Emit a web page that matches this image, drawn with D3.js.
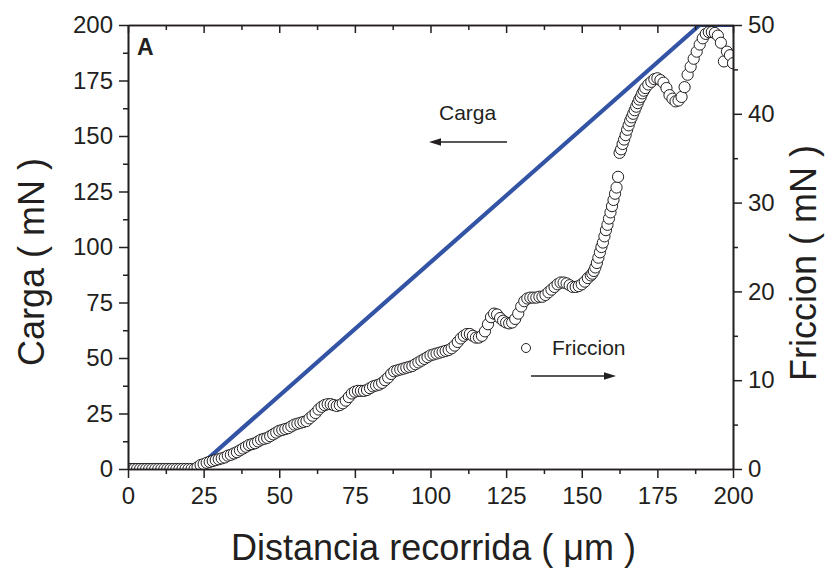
<!DOCTYPE html>
<html>
<head>
<meta charset="utf-8">
<script src="https://cdn.jsdelivr.net/npm/d3@7"></script>
<style>
  html, body { margin: 0; padding: 0; background: #fff; }
  svg { display: block; }
  text { font-family: "Liberation Sans", Arial, Helvetica, sans-serif; fill: #231f20; }
</style>
</head>
<body>
<svg id="chart" width="826" height="568"></svg>
<script>
// Load ramp (left axis): distance (µm) vs. applied load (mN)
const cargaDist = [0, 22.5, 189, 200];
const cargaVal  = [0, 0, 200, 200];

// Friction force (right axis): distance (µm) vs. friction (mN)
const friccionDist = [
  0,1,2,3,4,5,6,7,8,9,10,11,12,13,14,15,16,17,18,19,20,21,22,
  23,24,25,26,27,28,29,30,31,32,33,34,35,36,37,38,39,40,41,42,43,44,45,46,47,48,49,50,
  51,52,53,54,55,56,57,58,59,60,61,62,63,64,65,66,67,68,69,70,71,72,73,74,75,
  76,77,78,79,80,81,82,83,84,85,86,87,88,89,90,91,92,93,94,95,96,97,98,99,100,
  101,102,103,104,105,106,107,108,109,110,111,112,113,114,115,116,117,118,119,120,
  121,122,123,124,125,126,127,128,129,130,131,132,133,134,135,136,137,138,139,140,
  141,142,143,144,145,146,147,148,149,150,151,152,153,
  153.5,154,154.5,155,155.5,156,156.5,157,157.5,158,158.5,159,159.5,160,160.5,161,161.5,
  162,162.5,163,163.5,164,164.5,165,165.5,166,166.5,167,167.5,168,168.5,169,169.5,170,170.5,171,
  172,173,174,175,176,177,178,179,180,181,182,183,184,185,186,187,188,189,190,
  191,192,193,194,195,196,197,198,199,200
];
const friccionVal = [
  0,0,0,0,0,0,0,0,0,0,0,0,0,0,0,0,0,0,0,0,0,0,0,
  0.2,0.45,0.55,0.7,0.8,0.9,1.0,1.1,1.2,1.3,1.5,1.6,1.75,1.9,2.1,2.3,2.5,2.7,2.8,2.9,3.1,3.3,3.4,3.5,3.7,3.9,4.1,4.3,
  4.4,4.5,4.6,4.8,5.0,5.1,5.2,5.3,5.4,5.7,6.0,6.3,6.7,7.0,7.2,7.3,7.3,7.2,7.1,7.2,7.4,7.7,8.1,8.5,8.7,
  8.8,8.8,8.8,8.9,9.1,9.3,9.4,9.5,9.7,10.0,10.3,10.7,11.0,11.1,11.2,11.3,11.4,11.5,11.6,11.8,12.0,12.2,12.4,12.6,12.8,
  12.9,13.0,13.1,13.2,13.3,13.4,13.6,13.9,14.3,14.7,15.0,15.2,15.2,15.0,14.8,14.8,15.0,15.5,16.3,17.1,
  17.5,17.4,17.0,16.7,16.5,16.4,16.5,16.9,17.5,18.3,18.9,19.2,19.3,19.3,19.3,19.4,19.4,19.6,19.9,20.2,
  20.5,20.8,21.0,21.0,20.9,20.7,20.5,20.5,20.6,20.8,21.1,21.5,21.8,
  22.0,22.3,22.7,23.2,23.8,24.4,25.0,25.5,26.2,26.9,27.5,28.2,28.9,29.6,30.3,31.0,31.7,
  32.9,35.6,36.0,36.6,37.1,37.6,38.2,38.7,39.2,39.6,40.0,40.4,40.8,41.2,41.6,41.9,42.3,42.6,42.9,
  43.3,43.6,43.9,44.0,43.8,43.5,42.9,42.1,41.7,41.4,41.5,41.9,43.0,44.4,45.3,46.2,47.0,47.8,48.5,
  49.0,49.2,49.2,49.1,48.8,48.0,45.9,47.0,46.6,45.7
];

// Axis ticks
const xTicks = [0, 25, 50, 75, 100, 125, 150, 175, 200];
const xMinorTicks = [12.5, 37.5, 62.5, 87.5, 112.5, 137.5, 162.5, 187.5];
const cargaTicks = [0, 25, 50, 75, 100, 125, 150, 175, 200];
const cargaMinorTicks = [12.5, 37.5, 62.5, 87.5, 112.5, 137.5, 162.5, 187.5];
const friccionTicks = [0, 10, 20, 30, 40, 50];
const friccionMinorTicks = [5, 15, 25, 35, 45];

const svg = d3.select("#chart");
const plotLeft = 128, plotRight = 733, plotTop = 25, plotBottom = 469;
const ink = "#231f20";
const blue = "#3353a4";

const x = d3.scaleLinear().domain([0, 200]).range([plotLeft, plotRight]);
const yL = d3.scaleLinear().domain([0, 200]).range([plotBottom, plotTop]);
const yR = d3.scaleLinear().domain([0, 50]).range([plotBottom, plotTop]);

svg.append("defs").append("clipPath").attr("id", "plotClip")
  .append("rect").attr("x", plotLeft).attr("y", plotTop)
  .attr("width", plotRight - plotLeft).attr("height", plotBottom - plotTop);

const plot = svg.append("g").attr("clip-path", "url(#plotClip)");

// load line
const cargaPts = cargaDist.map((d, i) => [d, cargaVal[i]]);
plot.append("path")
  .datum(cargaPts)
  .attr("fill", "none")
  .attr("stroke", blue)
  .attr("stroke-width", 4.2)
  .attr("d", d3.line().x(d => x(d[0])).y(d => yL(d[1])));

// friction markers
const friccionPts = friccionDist.map((d, i) => [d, friccionVal[i]]);
plot.append("g").selectAll("circle")
  .data(friccionPts)
  .join("circle")
  .attr("cx", d => x(d[0]))
  .attr("cy", d => yR(d[1]))
  .attr("r", 5.6)
  .attr("fill", "#fff")
  .attr("stroke", ink)
  .attr("stroke-width", 1);

// axes
function styleAxis(g) {
  g.select(".domain").attr("stroke", ink).attr("stroke-width", 1.6);
  g.selectAll(".tick line").attr("stroke", ink).attr("stroke-width", 1.5);
  g.selectAll(".tick text")
    .attr("fill", ink)
    .style("font-size", "24px")
    .style("font-family", "'Liberation Sans', Arial, sans-serif");
}

svg.append("g").attr("transform", `translate(0,${plotBottom})`)
  .call(d3.axisBottom(x).tickValues(xTicks).tickSize(9).tickPadding(9).tickSizeOuter(0).tickFormat(d3.format("d")))
  .call(styleAxis);
svg.append("g").attr("transform", `translate(0,${plotBottom})`)
  .call(d3.axisBottom(x).tickValues(xMinorTicks).tickSize(5).tickSizeOuter(0).tickFormat(""))
  .call(styleAxis);

svg.append("g").attr("transform", `translate(0,${plotTop})`)
  .call(d3.axisBottom(x).tickValues(xTicks).tickSize(8).tickSizeOuter(0).tickFormat(""))
  .call(styleAxis);
svg.append("g").attr("transform", `translate(0,${plotTop})`)
  .call(d3.axisBottom(x).tickValues(xMinorTicks).tickSize(5).tickSizeOuter(0).tickFormat(""))
  .call(styleAxis);

svg.append("g").attr("transform", `translate(${plotLeft},0)`)
  .call(d3.axisLeft(yL).tickValues(cargaTicks).tickSize(9).tickPadding(6).tickSizeOuter(0).tickFormat(d3.format("d")))
  .call(styleAxis);
svg.append("g").attr("transform", `translate(${plotLeft},0)`)
  .call(d3.axisLeft(yL).tickValues(cargaMinorTicks).tickSize(5).tickSizeOuter(0).tickFormat(""))
  .call(styleAxis);

svg.append("g").attr("transform", `translate(${plotRight},0)`)
  .call(d3.axisRight(yR).tickValues(friccionTicks).tickSize(9).tickPadding(6).tickSizeOuter(0).tickFormat(d3.format("d")))
  .call(styleAxis);
svg.append("g").attr("transform", `translate(${plotRight},0)`)
  .call(d3.axisRight(yR).tickValues(friccionMinorTicks).tickSize(5).tickSizeOuter(0).tickFormat(""))
  .call(styleAxis);

// axis titles
svg.append("text")
  .attr("x", (plotLeft + plotRight) / 2 + 3).attr("y", 560)
  .attr("text-anchor", "middle")
  .style("font-size", "36px")
  .text("Distancia recorrida ( μm )");

svg.append("text")
  .attr("transform", "translate(44,262) rotate(-90)")
  .attr("text-anchor", "middle")
  .style("font-size", "36px")
  .text("Carga ( mN )");

svg.append("text")
  .attr("transform", "translate(816,263) rotate(-90)")
  .attr("text-anchor", "middle")
  .style("font-size", "36px")
  .text("Friccion ( mN )");

// panel letter
svg.append("text")
  .attr("x", 137).attr("y", 55)
  .style("font-size", "23px").style("font-weight", "bold")
  .text("A");

// annotations with arrows
svg.append("text")
  .attr("x", 439).attr("y", 120)
  .style("font-size", "21px")
  .text("Carga");

svg.append("text")
  .attr("x", 552).attr("y", 355)
  .style("font-size", "21px")
  .text("Friccion");

svg.append("circle")
  .attr("cx", 526).attr("cy", 348).attr("r", 4.5)
  .attr("fill", "#fff").attr("stroke", ink).attr("stroke-width", 1);

function arrow(x1, x2, y) {
  const dir = Math.sign(x2 - x1);
  const headLen = 12, headHalf = 3.8;
  svg.append("line")
    .attr("x1", x1).attr("y1", y)
    .attr("x2", x2 - dir * headLen + dir).attr("y2", y)
    .attr("stroke", ink).attr("stroke-width", 1.6);
  svg.append("path")
    .attr("d", `M${x2},${y} L${x2 - dir * headLen},${y - headHalf} L${x2 - dir * headLen},${y + headHalf} Z`)
    .attr("fill", ink);
}
arrow(507, 429, 142);
arrow(531, 616, 376);
</script>
</body>
</html>
